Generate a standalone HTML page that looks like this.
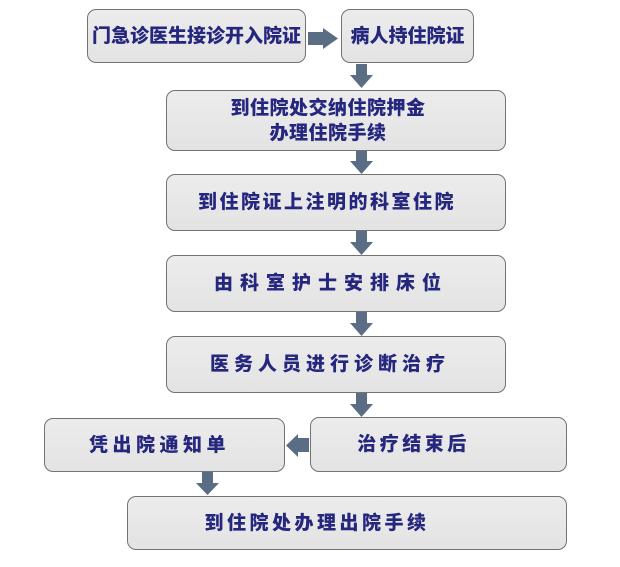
<!DOCTYPE html>
<html><head><meta charset="utf-8"><style>
body{margin:0;width:620px;height:567px;background:#fff;position:relative;overflow:hidden;font-family:"Liberation Sans","Noto Sans CJK SC",sans-serif;}
.b{position:absolute;box-sizing:border-box;border:1.5px solid #737373;border-radius:9px;background:linear-gradient(#ececec,#e3e3e3);display:flex;align-items:center;justify-content:center;text-align:center;color:#25267e;font-weight:900;font-size:19px;line-height:25px;white-space:nowrap;}
svg{position:absolute;left:0;top:0}
</style></head><body>
<div class="b" style="left:87px;top:9px;width:219px;height:54px;font-size:19px;letter-spacing:0px;">门急诊医生接诊开入院证</div>
<div class="b" style="left:341px;top:9px;width:133px;height:54px;">病人持住院证</div>
<div class="b" style="left:166px;top:90px;width:340px;height:61px;letter-spacing:0.5px;padding-right:16px;">到住院处交纳住院押金<br>办理住院手续</div>
<div class="b" style="left:166px;top:174px;width:340px;height:57px;letter-spacing:2.5px;padding-right:18px;">到住院证上注明的科室住院</div>
<div class="b" style="left:166px;top:255px;width:340px;height:57px;letter-spacing:7px;padding-right:10px;">由科室护士安排床位</div>
<div class="b" style="left:166px;top:336px;width:340px;height:57px;letter-spacing:5px;padding-right:12px;">医务人员进行诊断治疗</div>
<div class="b" style="left:44px;top:418px;width:241px;height:54px;letter-spacing:4.5px;padding-right:10px;">凭出院通知单</div>
<div class="b" style="left:310px;top:417px;width:257px;height:55px;letter-spacing:3.5px;padding-right:50px;">治疗结束后</div>
<div class="b" style="left:127px;top:496px;width:440px;height:54px;letter-spacing:3.5px;padding-right:60px;">到住院处办理出院手续</div>
<svg width="620" height="567">
<g fill="#5a6d84">
<polygon points="308,32 323,32 323,28 338,38.5 323,49 323,45 308,45"/>
<polygon points="356,64 367,64 367,75 373,75 361.5,88 350,75 356,75"/>
<polygon points="356,151 367,151 367,161 373,161 361.5,174 350,161 356,161"/>
<polygon points="356,231 367,231 367,242 373,242 361.5,255 350,242 356,242"/>
<polygon points="356,312 367,312 367,323 373,323 361.5,336 350,323 356,323"/>
<polygon points="356,393 367,393 367,404 373,404 361.5,417 350,404 356,404"/>
<polygon points="309,438 298,438 298,434 286,445.5 298,457 298,452 309,452"/>
<polygon points="202,472 213,472 213,483 219,483 207.5,495 196,483 202,483"/>
</g>
</svg>
</body></html>
